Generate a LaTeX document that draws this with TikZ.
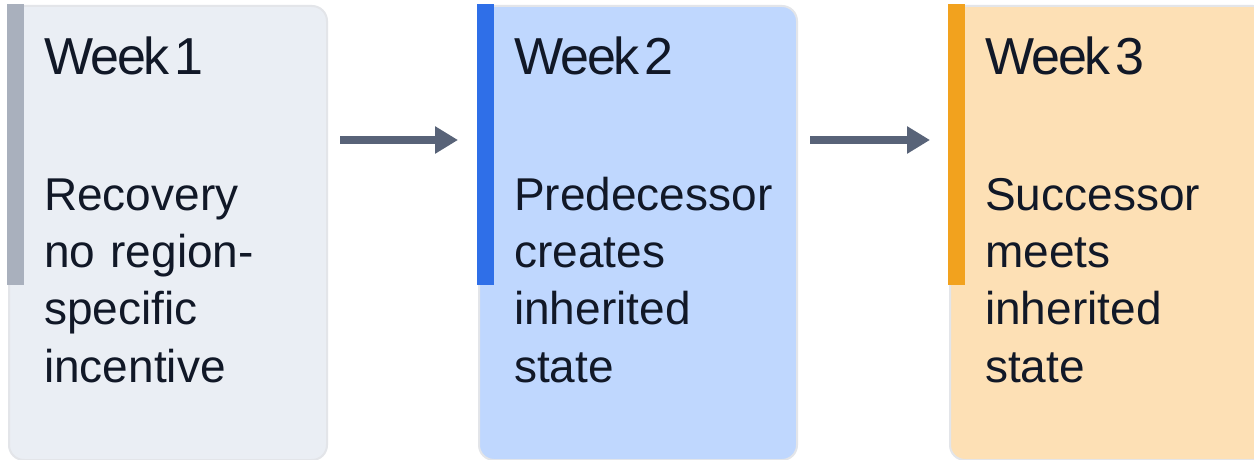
\documentclass[tikz,border=0pt]{standalone}
\usepackage{fontspec}
\setmainfont{Liberation Sans}[WordSpace=0.4]
\newfontfamily\headfont{Liberation Sans}[LetterSpace=-4,WordSpace=0.4]
\usetikzlibrary{arrows.meta}
\definecolor{txt}{HTML}{111827}
\definecolor{bord}{HTML}{E3E5E9}
\definecolor{fillA}{HTML}{EAEEF4}
\definecolor{accA}{HTML}{A9B0BD}
\definecolor{fillB}{HTML}{BFD7FE}
\definecolor{accB}{HTML}{2F6FE8}
\definecolor{fillC}{HTML}{FDE0B5}
\definecolor{accC}{HTML}{F2A21E}
\definecolor{arrc}{HTML}{586378}
\begin{document}
\begin{tikzpicture}[x=1pt,y=1pt,
  card/.style={draw=bord, line width=2pt, rounded corners=15pt, inner sep=0pt,
    minimum width=318pt, minimum height=454pt, anchor=north west},
  title/.style={anchor=base west, inner sep=0pt, text=txt,
    font=\headfont\fontsize{52}{57.5}\selectfont},
  body/.style={anchor=base west, inner sep=0pt, text=txt, align=left, text width=300pt,
    font=\fontsize{46}{57.5}\selectfont},
  flow/.style={draw=arrc, line width=8pt, -{Triangle[length=23pt,width=26pt]}}]
\useasboundingbox (0,0) rectangle (1254,-460);
\clip (0,0) rectangle (1254,-460);
\fill[white] (0,0) rectangle (1254,-460);
% cards
\node[card, fill=fillA] (c1) at (8,-5) {};
\node[card, fill=fillB] (c2) at (478,-5) {};
\node[card, fill=fillC] (c3) at (949,-5) {};
% accent bars
\fill[accA] (7,-4) rectangle (24,-285);
\fill[accB] (477,-4) rectangle (494,-285);
\fill[accC] (948,-4) rectangle (965,-285);
% texts
\node[title] (t1) at (44,-75) {Week 1};
\node[title] (t2) at (514,-75) {Week 2};
\node[title] (t3) at (985,-75) {Week 3};
\node[body] (d1) at (44,-210) {Recovery\\no region-\\specific\\incentive};
\node[body] (d2) at (514,-210) {Predecessor\\creates\\inherited\\state};
\node[body] (d3) at (985,-210) {Successor\\meets\\inherited\\state};
% connectors
\coordinate (a1s) at ([xshift=12pt]c1.east |- 0,-140);
\coordinate (a1e) at ([xshift=-20pt]c2.west |- 0,-140);
\coordinate (a2s) at ([xshift=12pt]c2.east |- 0,-140);
\coordinate (a2e) at ([xshift=-19pt]c3.west |- 0,-140);
\draw[flow] (a1s) -- (a1e);
\draw[flow] (a2s) -- (a2e);
\end{tikzpicture}
\end{document}
